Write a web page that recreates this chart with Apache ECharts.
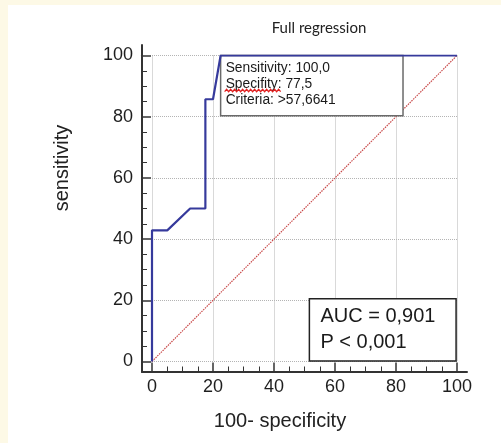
<!DOCTYPE html>
<html><head><meta charset="utf-8">
<script src="https://cdn.jsdelivr.net/npm/echarts@6/dist/echarts.min.js"></script>
<style>html,body{margin:0;padding:0;background:#fff}#c{width:501px;height:443px}</style>
</head><body><div id="c"></div>
<script>
const chartTitle = 'Full regression';
const xName = '100- specificity';
const yName = 'sensitivity';
const rocX = [0, 0, 5, 12.5, 17.5, 17.5, 20, 22.5, 100];
const rocY = [0, 42.86, 42.86, 50, 50, 85.71, 85.71, 100, 100];
const diagX = [0, 100];
const diagY = [0, 100];
const cutoffLines = ['Sensitivity: 100,0', 'Specifity: 77,5', 'Criteria: >57,6641'];
const statLines = ['AUC = 0,901', 'P < 0,001'];

const font = 'Arial, "Liberation Sans", sans-serif';
const chart = echarts.init(document.getElementById('c'), null, {renderer: 'canvas'});

function mainAxis(extra) {
  return Object.assign({
    type: 'value', gridIndex: 0, min: 0, max: 100, interval: 20, offset: 10,
    axisLine: {show: true, onZero: false, lineStyle: {color: '#333', width: 2}},
    axisTick: {show: true, inside: true, length: 9, lineStyle: {color: '#333', width: 1.5}},
    minorTick: {show: true, splitNumber: 4, length: 5, lineStyle: {color: '#333', width: 1}},
    axisLabel: {fontSize: 18, color: '#222', fontFamily: font},
    splitLine: {show: true, lineStyle: {color: '#b4b4b4', type: [1, 1], width: 1}}
  }, extra);
}
function extAxis() {
  return {
    type: 'value', gridIndex: 1, min: 0, max: 1,
    axisLine: {show: true, onZero: false, lineStyle: {color: '#333', width: 2}},
    axisTick: {show: false}, axisLabel: {show: false}, splitLine: {show: false}
  };
}

chart.setOption({
  backgroundColor: '#ffffff',
  animation: false,
  grid: [
    {left: 152, top: 55.5, width: 305, height: 306},
    {left: 142, top: 45, width: 325, height: 327}
  ],
  xAxis: [mainAxis({axisLabel: {fontSize: 18, color: '#1e1e1e', fontFamily: font, margin: 7}}), extAxis()],
  yAxis: [mainAxis({axisLabel: {fontSize: 18, color: '#1e1e1e', fontFamily: font, margin: 9}}), extAxis()],
  series: [
    {
      type: 'line', xAxisIndex: 0, yAxisIndex: 0, z: 1, symbol: 'none',
      data: diagX.map((x, i) => [x, diagY[i]]),
      lineStyle: {color: '#c84848', width: 1.2, type: [1.5, 1]}
    },
    {
      type: 'line', xAxisIndex: 0, yAxisIndex: 0, z: 10, symbol: 'none',
      data: rocX.map((x, i) => [x, rocY[i]]),
      lineStyle: {color: '#363a9c', width: 2.2}
    }
  ]
});

function px(x, y) { return chart.convertToPixel({gridIndex: 0}, [x, y]); }
const tl = px(22.5, 100), br = px(82.3, 80.3);
const al = px(51.6, 20.5), ar = px(99.7, 0.2);
const sq = [];
for (let i = 0; i <= 28; i++) sq.push([tl[0] + 4 + i * 2, tl[1] + 35 + (i % 2 ? -1.2 : 1.2)]);

chart.setOption({
  graphic: [
    {type: 'rect', shape: {x: 0, y: 0, width: 501, height: 5}, style: {fill: '#fdf9e6'}, z: 0, silent: true},
    {type: 'rect', shape: {x: 0, y: 0, width: 8, height: 443}, style: {fill: '#fdf9e6'}, z: 0, silent: true},
    {type: 'rect', shape: {x: tl[0], y: tl[1], width: br[0] - tl[0], height: br[1] - tl[1]},
      style: {fill: '#fff', stroke: '#6a6a6a', lineWidth: 1.5}, z: 5},
    {type: 'text', x: tl[0] + 5, y: (tl[1] + br[1]) / 2 - 1, z: 6,
      style: {text: cutoffLines.join('\n'), font: '13.8px ' + font, fill: '#1a1a1a', lineHeight: 16, textVerticalAlign: 'middle'}},
    {type: 'polyline', shape: {points: sq}, style: {stroke: '#e02020', lineWidth: 1.2, fill: null}, z: 7},
    {type: 'rect', shape: {x: al[0], y: al[1], width: ar[0] - al[0], height: ar[1] - al[1]},
      style: {fill: '#fff', stroke: '#222', lineWidth: 1.5}, z: 5},
    {type: 'text', x: al[0] + 11, y: (al[1] + ar[1]) / 2, z: 6,
      style: {text: statLines.join('\n'), font: '20px ' + font, fill: '#1a1a1a', lineHeight: 26, textVerticalAlign: 'middle'}},
    {type: 'text', x: 319, y: 28, z: 6,
      style: {text: chartTitle, font: '15px Lato, "Open Sans", sans-serif', fill: '#222', textAlign: 'center', textVerticalAlign: 'middle'}},
    {type: 'text', x: 280, y: 421, z: 6,
      style: {text: xName, font: '20px ' + font, fill: '#222', textAlign: 'center', textVerticalAlign: 'middle'}},
    {type: 'text', x: 62, y: 168, rotation: Math.PI / 2, z: 6,
      style: {text: yName, font: '20px ' + font, fill: '#222', textAlign: 'center', textVerticalAlign: 'middle'}}
  ]
});
</script></body></html>
